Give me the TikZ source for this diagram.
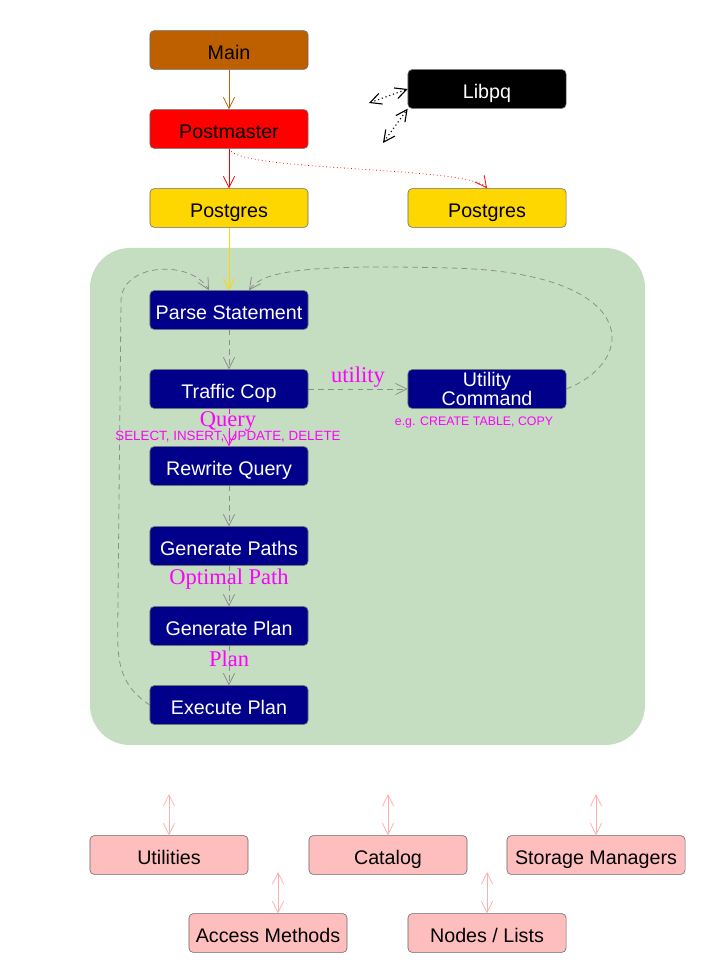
\documentclass[tikz,border=0pt]{standalone}
\usepackage{fontspec}
\setmainfont{Liberation Serif}
\setsansfont{Liberation Sans}
\usetikzlibrary{arrows.meta}
\definecolor{mainbrown}{RGB}{191,96,0}
\definecolor{pggold}{RGB}{255,215,0}
\definecolor{panelgreen}{RGB}{197,222,193}
\definecolor{stepblue}{RGB}{0,0,139}
\definecolor{modpink}{RGB}{255,190,190}
\definecolor{linkpink}{RGB}{255,175,175}
\definecolor{flowgray}{RGB}{140,140,140}
\definecolor{notemag}{RGB}{255,0,255}

\begin{document}
\begin{tikzpicture}[x=0.025cm,y=-0.025cm,line width=0.55pt,
    box/.style={rounded corners=3pt,draw=black!60,line width=0.4pt,minimum width=3.95cm,minimum height=0.97cm,
      inner sep=0pt,align=center,text height=13.5pt,text depth=0pt,font=\sffamily\fontsize{14}{14}\selectfont},
    stepbox/.style={box,fill=stepblue,text=white},
    modbox/.style={box,fill=modpink},
    tip/.style={-{Straight Barb[length=8pt,width=8pt]}},
    both/.style={{Straight Barb[length=8pt,width=8pt]}-{Straight Barb[length=8pt,width=8pt]}},
    flow/.style={tip,dash pattern=on 4pt off 3pt,flowgray},
    lbl/.style={text=notemag,font=\fontsize{16}{16}\selectfont,inner sep=1pt},
    note/.style={text=notemag,font=\sffamily\fontsize{9.5}{9.5}\selectfont,inner sep=1pt}]
  \path[use as bounding box] (0,0) rectangle (723,970);
  \fill[panelgreen,rounded corners=1cm] (90,248) rectangle (645,745);

  % processes
  \node [box,fill=mainbrown] (main) at (229,50) {Main};
  \node [box,fill=red] (pm) at (229,129) {Postmaster};
  \node [box,fill=pggold] (pg) at (229,208) {Postgres};
  \node [box,fill=pggold] (pgb) at (487,208) {Postgres};
  \node [box,fill=black,text=white] (libpq) at (487,89) {Libpq};
  \coordinate (lqa) at (369,103);
  \coordinate (lqb) at (383,143);

  % query steps
  \node [stepbox] (parse) at (229,310) {Parse Statement};
  \node [stepbox] (cop) at (229,389) {Traffic Cop};
  \node [stepbox,text height={},text depth={}] (ucmd) at (487,389) {Utility\\Command};
  \node [stepbox] (rewrite) at (229,466) {Rewrite Query};
  \node [stepbox] (paths) at (229,546) {Generate Paths};
  \node [stepbox] (plan) at (229,626) {Generate Plan};
  \node [stepbox] (exec) at (229,705) {Execute Plan};

  % modules
  \node [modbox] (util) at (169,855) {Utilities};
  \node [modbox] (cat) at (388,855) {Catalog};
  \node [modbox,minimum width=4.45cm] (smgr) at (596,855) {Storage Managers};
  \node [modbox] (am) at (268,933) {Access Methods};
  \node [modbox] (nodes) at (487,933) {Nodes / Lists};
  \coordinate (ua) at (169,794);
  \coordinate (ca) at (388,794);
  \coordinate (sa) at (596,794);
  \coordinate (aa) at (278,872);
  \coordinate (na) at (487,872);

  \draw [tip,mainbrown] (main) -- (pm);
  \draw [tip,red] (pm) -- (pg);
  \draw [tip,red,dotted] (pm.south) .. controls (236,172) and (470,166) .. (pgb.north);
  \draw [both,dotted,line width=0.8pt] (lqa) -- (libpq.west);
  \draw [both,dotted,line width=0.8pt] (lqb) -- (libpq.south west);
  \draw [tip,pggold] (pg) -- (parse);

  \draw [flow] (parse) -- (cop);
  \draw [flow] (cop) -- node [lbl,above] {utility} (ucmd);
  \draw [flow,notemag] (cop) -- (rewrite);
  \draw [flow] (rewrite) -- (paths);
  \draw [flow] (paths) -- (plan);
  \draw [flow] (plan) -- (exec);
  \draw [flow] (ucmd.east) .. controls (640,360) and (640,272) .. (450,268)
    .. controls (300,264) and (262,272) .. ([xshift=0.5cm]parse.north);
  \draw [flow] (exec.west) .. controls (112,680) and (118,650) .. (118,600)
    -- (121,300) .. controls (123,262) and (192,260) .. ([xshift=-0.5cm]parse.north);

  \node [lbl] at (228,421) {Query};
  \node [note] at (228,437) {SELECT, INSERT, UPDATE, DELETE};
  \node [note,font=\sffamily\fontsize{8.8}{8.8}\selectfont] at (474,422) {e.g. CREATE TABLE, COPY};
  \node [lbl] at (229,579) {Optimal Path};
  \node [lbl] at (229,659) {Plan};

  \draw [both,linkpink] (ua) -- (ua |- util.north);
  \draw [both,linkpink] (ca) -- (ca |- cat.north);
  \draw [both,linkpink] (sa) -- (sa |- smgr.north);
  \draw [both,linkpink] (aa) -- (aa |- am.north);
  \draw [both,linkpink] (na) -- (na |- nodes.north);
\end{tikzpicture}
\end{document}
